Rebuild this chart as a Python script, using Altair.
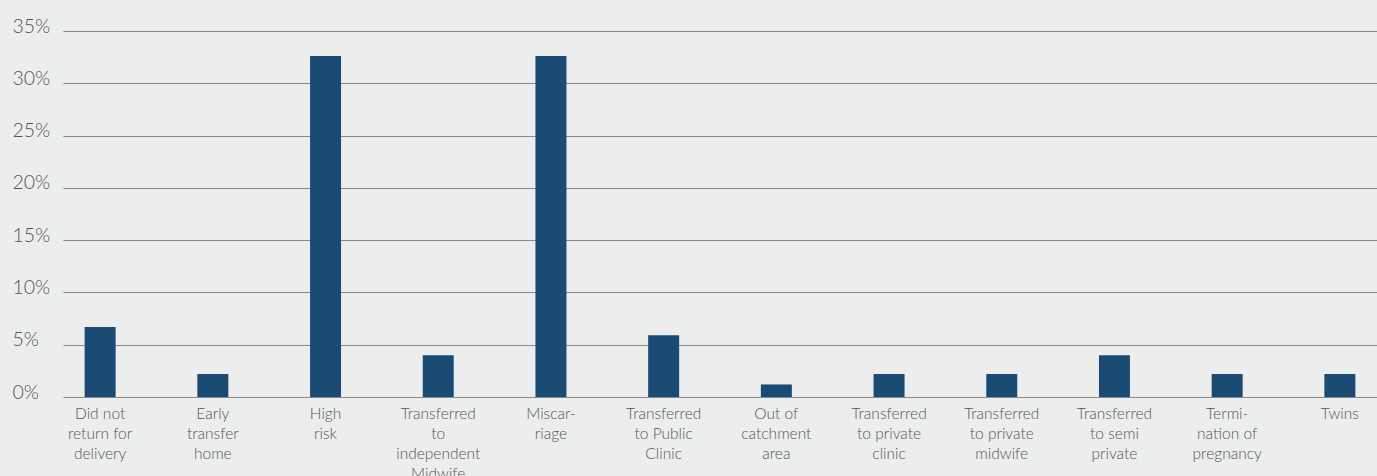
import altair as alt
import pandas as pd

categories = [
    "Did not|return for|delivery",
    "Early|transfer|home",
    "High|risk",
    "Transferred|to|independent|Midwife",
    "Miscar-|riage",
    "Transferred|to Public|Clinic",
    "Out of|catchment|area",
    "Transferred|to private|clinic",
    "Transferred|to private|midwife",
    "Transferred|to semi|private",
    "Termi-|nation of|pregnancy",
    "Twins",
]
values = [6.7, 2.2, 32.6, 4.0, 32.6, 5.9, 1.2, 2.2, 2.2, 4.0, 2.2, 2.2]
y_ticks = [0, 5, 10, 15, 20, 25, 30, 35]

df = pd.DataFrame({"cat": categories, "val": values})

FONT = "Lato"
TXT = "#555555"

chart = (
    alt.Chart(df)
    .mark_bar(color="#1a4b75")
    .encode(
        x=alt.X(
            "cat:N",
            sort=categories,
            title=None,
            scale=alt.Scale(paddingInner=0.725, paddingOuter=0.192),
            axis=alt.Axis(
                labelAngle=0,
                labelExpr="split(datum.label, '|')",
                labelFont=FONT,
                labelFontSize=15.5,
                labelFontWeight=300,
                labelColor=TXT,
                labelLineHeight=20,
                labelPadding=9,
                labelBaseline="top",
                ticks=False,
                domain=False,
                grid=False,
                labelLimit=200,
            ),
        ),
        y=alt.Y(
            "val:Q",
            title=None,
            scale=alt.Scale(domain=[0, 35], nice=False),
            axis=alt.Axis(
                values=y_ticks,
                labelExpr="datum.value + '%'",
                labelFont=FONT,
                labelFontSize=19.5,
                labelFontWeight=300,
                labelColor=TXT,
                labelAlign="left",
                labelBaseline="alphabetic",
                labelPadding=51,
                labelOffset=1,
                ticks=False,
                domain=False,
                grid=True,
                gridColor="#8a8a8a",
                gridWidth=1,
            ),
        ),
    )
    .properties(
        width=1314,
        height=366,
        background="#eceeed",
        padding={"left": 63, "top": 31, "right": 0, "bottom": 79},
        autosize=alt.AutoSizeParams(type="none"),
    )
    .configure_view(stroke=None)
)

chart.save("out.html", embed_options={"renderer": "svg", "actions": False})
